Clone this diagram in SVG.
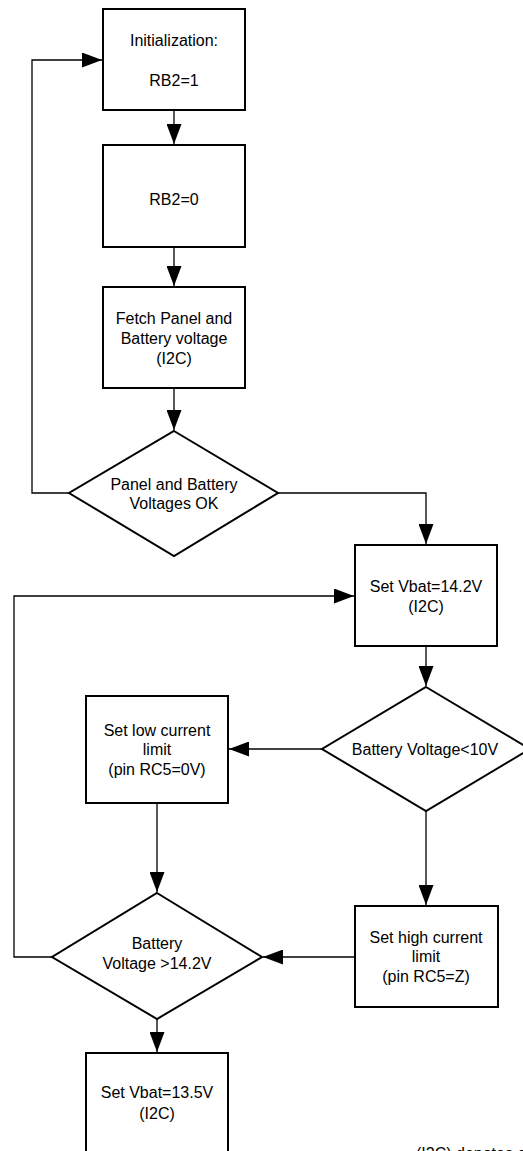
<svg xmlns="http://www.w3.org/2000/svg" width="523" height="1151" viewBox="0 0 523 1151">
<style>
.box{fill:#fff;stroke:#000;stroke-width:2}
.t{font-family:"Liberation Sans",Arial,sans-serif;font-size:16px;fill:#000;text-anchor:middle}
.c{fill:none;stroke:#000;stroke-width:1.3}
</style>
<defs>
<marker id="ah" markerUnits="userSpaceOnUse" markerWidth="20" markerHeight="15" refX="20" refY="7.5" orient="auto">
<path d="M0,0 L20,7.5 L0,15 z" fill="#000"/>
</marker>
</defs>
<rect width="523" height="1151" fill="#fff"/>
<g id="connectors">
<path class="c" d="M174,110 V144" marker-end="url(#ah)"/>
<path class="c" d="M174,247 V286" marker-end="url(#ah)"/>
<path class="c" d="M174,388 V430" marker-end="url(#ah)"/>
<path class="c" d="M69,493 H32 V60 H102" marker-end="url(#ah)"/>
<path class="c" d="M278,493 H426 V544" marker-end="url(#ah)"/>
<path class="c" d="M426,646 V686" marker-end="url(#ah)"/>
<path class="c" d="M322,749 H229" marker-end="url(#ah)"/>
<path class="c" d="M426,811 V905" marker-end="url(#ah)"/>
<path class="c" d="M157,803 V892" marker-end="url(#ah)"/>
<path class="c" d="M355,957 H263" marker-end="url(#ah)"/>
<path class="c" d="M52,957 H14 V596 H354" marker-end="url(#ah)"/>
<path class="c" d="M157,1019 V1052" marker-end="url(#ah)"/>
</g>
<g id="init">
<rect class="box" x="103" y="9" width="142" height="101"/>
<text class="t" x="174" y="46">Initialization:</text>
<text class="t" x="174" y="86">RB2=1</text>
</g>
<g id="rb2zero">
<rect class="box" x="103" y="145" width="142" height="102"/>
<text class="t" x="174" y="205">RB2=0</text>
</g>
<g id="fetch">
<rect class="box" x="103" y="287" width="142" height="101"/>
<text class="t" x="174" y="324">Fetch Panel and</text>
<text class="t" x="174" y="344">Battery voltage</text>
<text class="t" x="174" y="364">(I2C)</text>
</g>
<g id="voltagesok">
<polygon class="box" points="174,431 278,493 174,556 69,493"/>
<text class="t" x="174" y="490">Panel and Battery</text>
<text class="t" x="174" y="509">Voltages OK</text>
</g>
<g id="setv142">
<rect class="box" x="355" y="545" width="142" height="101"/>
<text class="t" x="426" y="592">Set Vbat=14.2V</text>
<text class="t" x="426" y="612">(I2C)</text>
</g>
<g id="batlt10">
<polygon class="box" points="426,687 530,749 426,811 322,749"/>
<text class="t" x="425" y="755">Battery Voltage&lt;10V</text>
</g>
<g id="lowlimit">
<rect class="box" x="86" y="696" width="142" height="107"/>
<text class="t" x="157" y="736">Set low current</text>
<text class="t" x="157" y="755">limit</text>
<text class="t" x="157" y="775">(pin RC5=0V)</text>
</g>
<g id="highlimit">
<rect class="box" x="355" y="906" width="143" height="101"/>
<text class="t" x="426" y="943">Set high current</text>
<text class="t" x="426" y="962">limit</text>
<text class="t" x="426" y="982">(pin RC5=Z)</text>
</g>
<g id="batgt142">
<polygon class="box" points="157,893 262,957 157,1019 52,957"/>
<text class="t" x="157" y="949">Battery</text>
<text class="t" x="157" y="969">Voltage &gt;14.2V</text>
</g>
<g id="setv135">
<rect class="box" x="86" y="1053" width="142" height="110"/>
<text class="t" x="157" y="1098">Set Vbat=13.5V</text>
<text class="t" x="157" y="1119">(I2C)</text>
</g>
<g id="note">
<text class="t" x="416" y="1159" style="text-anchor:start">(I2C) denotes c</text>
</g>
</svg>
